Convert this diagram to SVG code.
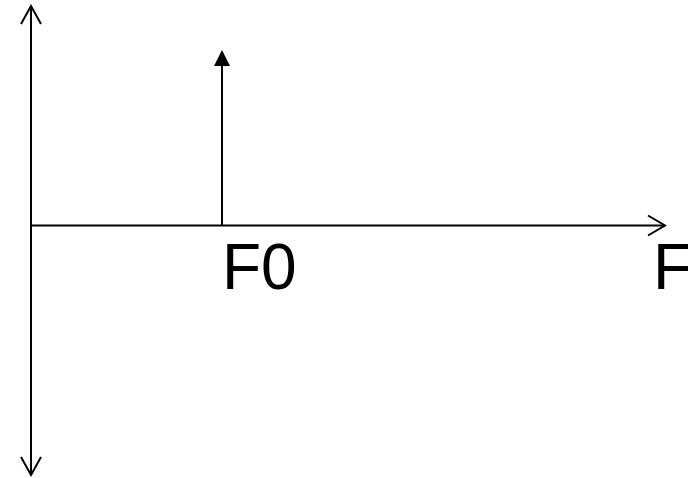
<svg xmlns="http://www.w3.org/2000/svg" width="688" height="478" viewBox="0 0 688 478">
<style>
.ax{stroke:#000;stroke-width:2;fill:none}
.head{stroke:#000;stroke-width:2;fill:none;stroke-linecap:butt;stroke-linejoin:miter}
.lbl{font-family:"Liberation Sans",Arial,sans-serif;font-size:64px;fill:#000}
</style>
<rect width="688" height="478" fill="#fff"/>
<g id="connectors">
<line class="ax" x1="31" y1="7" x2="31" y2="473"/>
<polyline class="head" points="21,24 31,6 41,24"/>
<polyline class="head" points="21,457 31,475 41,457"/>
<line class="ax" x1="31" y1="225.5" x2="664" y2="225.5"/>
<polyline class="head" points="648,215.5 665,225.5 648,235.5"/>
<line class="ax" x1="222" y1="225" x2="222" y2="64"/>
<polygon points="222,50 214,66 230,66" fill="#000"/>
</g>
<g id="label-F0"><text class="lbl" x="222" y="289">F0</text></g>
<g id="label-F"><text class="lbl" x="653" y="289">F</text></g>
</svg>
